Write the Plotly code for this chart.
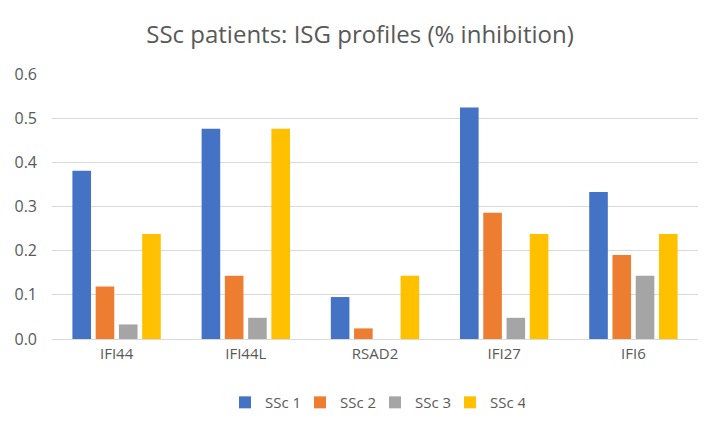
import plotly.graph_objects as go

categories = ["IFI44", "IFI44L", "RSAD2", "IFI27", "IFI6"]
series_names = ["SSc 1", "SSc 2", "SSc 3", "SSc 4"]
ssc1 = [0.381, 0.476, 0.095, 0.524, 0.333]
ssc2 = [0.119, 0.143, 0.024, 0.286, 0.190]
ssc3 = [0.033, 0.048, 0.0, 0.048, 0.143]
ssc4 = [0.238, 0.476, 0.143, 0.238, 0.238]
y_ticks = [0.0, 0.1, 0.2, 0.3, 0.4, 0.5, 0.6]
colors = ["#4472C4", "#ED7D31", "#A5A5A5", "#FFC000"]

FONT = "Open Sans, Liberation Sans, sans-serif"
fig = go.Figure()
for name, vals, col in zip(series_names, [ssc1, ssc2, ssc3, ssc4], colors):
    fig.add_trace(go.Bar(x=categories, y=vals, name=name, marker_color=col,
                         marker_line_width=0))

fig.update_layout(
    width=720, height=432,
    paper_bgcolor="white", plot_bgcolor="white",
    margin=dict(l=52, r=22, t=74, b=93),
    barmode="group", bargap=0.28, bargroupgap=0.2,
    title=dict(text="SSc patients: ISG profiles (% inhibition)", x=0.5, xanchor="center",
               y=1 - 35 / 432, yanchor="middle",
               font=dict(family=FONT, size=24, color="#595959")),
    font=dict(family=FONT, color="#595959", size=15),
    legend=dict(orientation="h", x=0.5, xanchor="center", y=-0.24, yanchor="middle",
                font=dict(size=15, color="#595959"), itemwidth=30, traceorder="normal",
                entrywidth=30, entrywidthmode="pixels"),
    xaxis=dict(showgrid=False, showline=False, ticks="", ticklabelstandoff=4,
               tickfont=dict(size=15, color="#595959")),
    yaxis=dict(range=[0, 0.6], tickvals=y_ticks, tickformat=".1f", showgrid=True,
               gridcolor="#D9D9D9", gridwidth=1, zeroline=True, zerolinecolor="#D9D9D9",
               zerolinewidth=1, showline=False, ticks="", ticklabelstandoff=14,
               tickfont=dict(size=16, color="#595959")),
)
fig.write_html("out.html", config={"displayModeBar": False},
               post_script="document.body.style.margin='0';")
